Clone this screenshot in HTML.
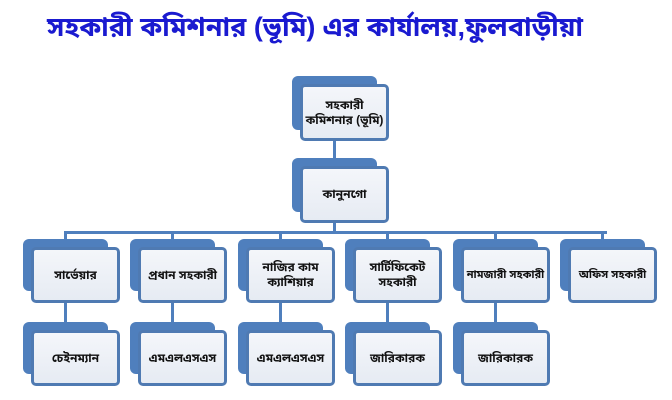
<!DOCTYPE html>
<html><head><meta charset="utf-8"><style>
body{margin:0;width:672px;height:400px;background:#fff;position:relative;overflow:hidden;font-family:"Liberation Sans","Noto Sans Bengali","Lohit Bengali",sans-serif}
.t{position:absolute;left:0;top:12px;width:630px;text-align:center;color:#1a1ad0;font-size:27px;font-weight:bold;white-space:nowrap}
.b{position:absolute;background:#4f7fbd;border-radius:6px}
.f{position:absolute;background:linear-gradient(#f4f6fa,#e6ebf3);border:3px solid #4f7ab2;border-radius:5px;box-sizing:border-box;display:flex;align-items:center;justify-content:center;text-align:center;font-size:12px;font-weight:bold;color:#111;line-height:15px}
.l{position:absolute;background:#4f7fbd}
</style></head><body>
<div class="t">সহকারী কমিশনার (ভূমি) এর কার্যালয়,ফুলবাড়ীয়া</div>

<div class="l" style="left:333px;top:140px;width:3px;height:20px"></div>
<div class="l" style="left:333px;top:222px;width:3px;height:12px"></div>
<div class="l" style="left:64px;top:231px;width:543px;height:3px"></div>

<div class="b" style="left:292px;top:76px;width:85px;height:54px"></div>
<div class="f" style="left:300px;top:84px;width:89px;height:57px">সহকারী<br>কমিশনার (ভূমি)</div>
<div class="b" style="left:292px;top:158px;width:85px;height:54px"></div>
<div class="f" style="left:300px;top:166px;width:89px;height:57px">কানুনগো</div>

<div id="c"></div>
<script>
var xs=[23,130,238,345,453,560];
var r1=["সার্ভেয়ার","প্রধান সহকারী","নাজির কাম<br>ক্যাশিয়ার","সার্টিফিকেট<br>সহকারী","<span style='white-space:nowrap;font-size:11px'>নামজারী সহকারী</span>","<span style='white-space:nowrap;font-size:11px'>অফিস সহকারী</span>"];
var r2=["চেইনম্যান","এমএলএসএস","এমএলএসএস","জারিকারক","জারিকারক",null];
var h="";
for(var i=0;i<6;i++){var x=xs[i];
h+='<div class="l" style="left:'+(x+41)+'px;top:231px;width:3px;height:10px"></div>';
h+='<div class="b" style="left:'+x+'px;top:239px;width:85px;height:52px"></div>';
h+='<div class="f" style="left:'+(x+8)+'px;top:247px;width:89px;height:56px">'+r1[i]+'</div>';
if(r2[i]){
h+='<div class="l" style="left:'+(x+41)+'px;top:303px;width:3px;height:20px"></div>';
h+='<div class="b" style="left:'+x+'px;top:322px;width:85px;height:52px"></div>';
h+='<div class="f" style="left:'+(x+8)+'px;top:330px;width:89px;height:56px">'+r2[i]+'</div>';}
}
document.getElementById('c').innerHTML=h;
</script>
</body></html>
